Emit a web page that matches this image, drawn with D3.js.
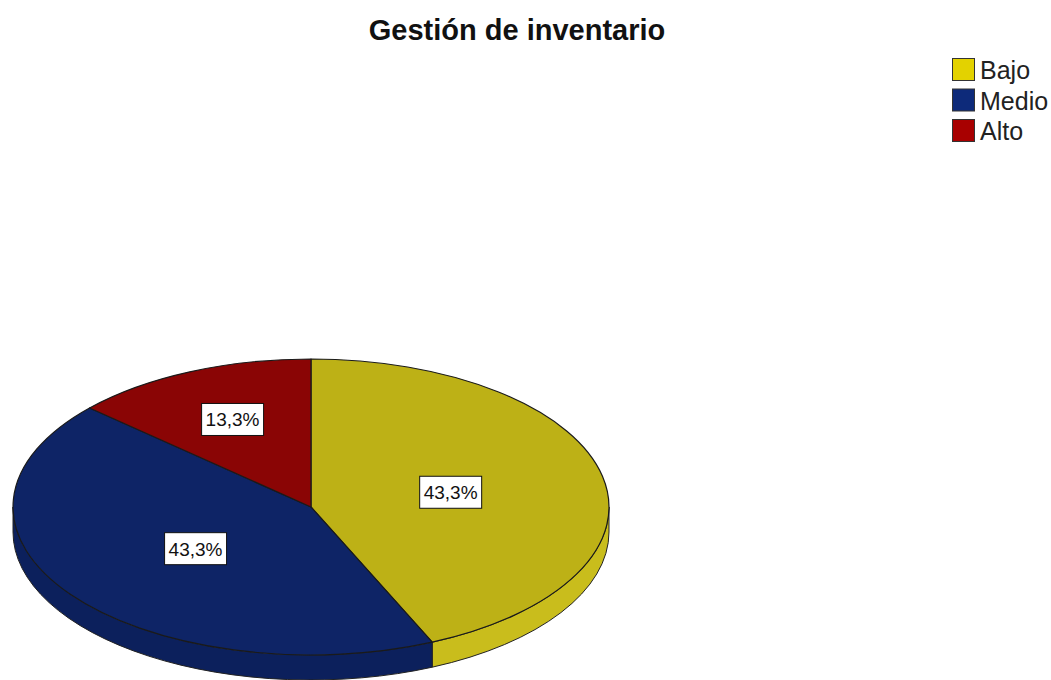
<!DOCTYPE html>
<html>
<head>
<meta charset="utf-8">
<script src="https://cdn.jsdelivr.net/npm/d3@7"></script>
<style>
  body { margin: 0; background: #fff; }
  svg { display: block; font-family: "Liberation Sans", Arial, sans-serif; }
</style>
</head>
<body>
<div id="chart"></div>
<script>
// Data
const title = "Gestión de inventario";
const categories = ["Bajo", "Medio", "Alto"];
const counts = [13, 13, 4];

// Colours (top face, side wall, legend swatch)
const topColors = ["#BDB116", "#0E2466", "#8A0505"];
const sideColors = ["#C9BD1C", "#0C205C", "#7A0404"];
const legendColors = ["#E3D200", "#0D2A7A", "#A80000"];

const width = 1051, height = 680;
const cx = 311, cy = 507, rx = 298, ry = 148, depth = 25;

const svg = d3.select("#chart").append("svg")
    .attr("width", width)
    .attr("height", height);

svg.append("rect").attr("width", width).attr("height", height).attr("fill", "#fff");

// Title
svg.append("text")
    .attr("x", 517)
    .attr("y", 40)
    .attr("text-anchor", "middle")
    .style("font-size", "29px")
    .style("font-weight", "bold")
    .attr("fill", "#111")
    .text(title);

// Spanish-style percent format (decimal comma)
const fmt = d3.formatLocale({ decimal: ",", thousands: ".", grouping: [3], currency: ["", "€"] }).format(".1%");
const total = d3.sum(counts);

const arcs = d3.pie().sort(null).value(d => d)(counts);

// point on the tilted ellipse; angle 0 at top, clockwise
const P = (a, dy = 0) => [cx + rx * Math.sin(a), cy - ry * Math.cos(a) + dy];
const pt = p => `${p[0].toFixed(2)},${p[1].toFixed(2)}`;

// Side walls (only the front half, between 90° and 270°)
const sides = svg.append("g");
arcs.forEach((d, i) => {
    const s = Math.max(d.startAngle, Math.PI / 2);
    const e = Math.min(d.endAngle, Math.PI * 1.5);
    if (e <= s) return;
    const path = `M${pt(P(s))} A${rx},${ry} 0 0 1 ${pt(P(e))} L${pt(P(e, depth))} A${rx},${ry} 0 0 0 ${pt(P(s, depth))} Z`;
    sides.append("path")
        .attr("d", path)
        .attr("fill", sideColors[i])
        .attr("stroke", "#222")
        .attr("stroke-width", 1)
        .attr("stroke-linejoin", "round");
});

// Top faces
const tops = svg.append("g");
arcs.forEach((d, i) => {
    const large = (d.endAngle - d.startAngle) > Math.PI ? 1 : 0;
    const path = `M${cx},${cy} L${pt(P(d.startAngle))} A${rx},${ry} 0 ${large} 1 ${pt(P(d.endAngle))} Z`;
    tops.append("path")
        .attr("d", path)
        .attr("fill", topColors[i])
        .attr("stroke", "#1a1a1a")
        .attr("stroke-width", 1.2)
        .attr("stroke-linejoin", "round");
});

// Labels placed at the sector centroid
const labels = svg.append("g");
arcs.forEach((d, i) => {
    const half = (d.endAngle - d.startAngle) / 2;
    const mid = d.startAngle + half;
    const f = (2 / 3) * Math.sin(half) / half;
    const lx = cx + rx * f * Math.sin(mid);
    const ly = cy - ry * f * Math.cos(mid);
    const g = labels.append("g").attr("transform", `translate(${lx},${ly})`);
    const txt = g.append("text")
        .attr("text-anchor", "middle")
        .attr("dy", "0.36em")
        .style("font-size", "19px")
        .attr("fill", "#111")
        .text(fmt(counts[i] / total));
    const bb = txt.node().getBBox();
    g.insert("rect", "text")
        .attr("x", bb.x - 4)
        .attr("y", -16)
        .attr("width", bb.width + 8)
        .attr("height", 32)
        .attr("fill", "#fff")
        .attr("stroke", "#111")
        .attr("stroke-width", 1);
});

// Legend
const legend = svg.append("g").attr("transform", "translate(952,58)");
categories.forEach((c, i) => {
    const row = legend.append("g").attr("transform", `translate(0,${i * 30.5})`);
    row.append("rect")
        .attr("x", 0.5).attr("y", 0.5)
        .attr("width", 22).attr("height", 22)
        .attr("fill", legendColors[i])
        .attr("stroke", "#333")
        .attr("stroke-width", 1);
    row.append("text")
        .attr("x", 28)
        .attr("y", 21)
        .style("font-size", "25px")
        .attr("fill", "#222")
        .text(c);
});
</script>
</body>
</html>
